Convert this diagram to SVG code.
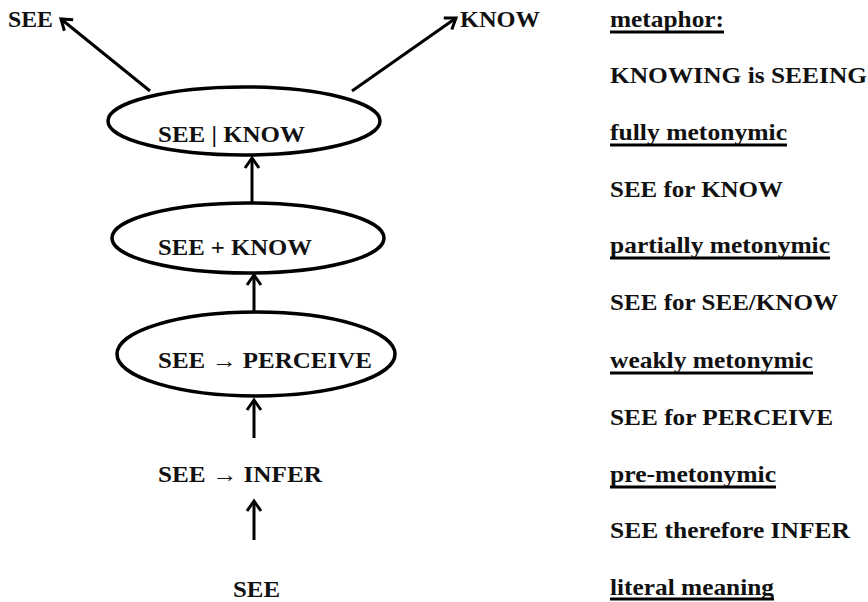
<svg xmlns="http://www.w3.org/2000/svg" width="868" height="602" viewBox="0 0 868 602">
<style>
  text { font-family: "Liberation Serif", "Times New Roman", serif; font-weight: bold; font-size: 23px; fill: #111; }
  .ell { fill: none; stroke: #000; stroke-width: 3.5; }
  .conn { stroke: #000; stroke-width: 3; fill: none; marker-end: url(#ah); }
  .ul { stroke: #000; stroke-width: 3; }
</style>
<defs>
  <marker id="ah" viewBox="-13 -9 16 18" refX="0" refY="0" markerWidth="16" markerHeight="18" markerUnits="userSpaceOnUse" orient="auto">
    <path d="M-10,-7 L0,0 L-10,7" fill="none" stroke="#000" stroke-width="3"/>
  </marker>
</defs>
<rect width="868" height="602" fill="#fff"/>

<g id="connectors">
  <line class="conn" x1="150" y1="91" x2="61" y2="19"/>
  <line class="conn" x1="352" y1="91" x2="456" y2="18"/>
  <line class="conn" x1="252" y1="203" x2="252" y2="158"/>
  <line class="conn" x1="254" y1="312" x2="254" y2="275"/>
  <line class="conn" x1="254" y1="438" x2="254" y2="400"/>
  <line class="conn" x1="254" y1="540" x2="254" y2="501"/>
</g>

<g id="top-see"><text x="8" y="27" textLength="45" lengthAdjust="spacingAndGlyphs">SEE</text></g>
<g id="top-know"><text x="460" y="27" textLength="80" lengthAdjust="spacingAndGlyphs">KNOW</text></g>

<g id="see-bar-know">
  <ellipse class="ell" cx="244" cy="121" rx="136" ry="34"/>
  <text x="158" y="142" textLength="147" lengthAdjust="spacingAndGlyphs">SEE | KNOW</text>
</g>
<g id="see-plus-know">
  <ellipse class="ell" cx="248" cy="238" rx="136" ry="35"/>
  <text x="158" y="255" textLength="154" lengthAdjust="spacingAndGlyphs">SEE + KNOW</text>
</g>
<g id="see-perceive">
  <ellipse class="ell" cx="256" cy="354" rx="139" ry="42"/>
  <text x="158" y="368" textLength="214" lengthAdjust="spacingAndGlyphs">SEE → PERCEIVE</text>
</g>
<g id="see-infer">
  <text x="158" y="482" textLength="164" lengthAdjust="spacingAndGlyphs">SEE → INFER</text>
</g>
<g id="see-bottom">
  <text x="233" y="597" textLength="47" lengthAdjust="spacingAndGlyphs">SEE</text>
</g>

<g id="legend">
  <text x="610" y="27" textLength="114" lengthAdjust="spacingAndGlyphs">metaphor:</text>
  <line class="ul" x1="610" y1="32" x2="724" y2="32"/>
  <text x="610" y="83" textLength="257" lengthAdjust="spacingAndGlyphs">KNOWING is SEEING</text>
  <text x="610" y="140" textLength="177" lengthAdjust="spacingAndGlyphs">fully metonymic</text>
  <line class="ul" x1="610" y1="145" x2="787" y2="145"/>
  <text x="610" y="197" textLength="173" lengthAdjust="spacingAndGlyphs">SEE for KNOW</text>
  <text x="610" y="253" textLength="220" lengthAdjust="spacingAndGlyphs">partially metonymic</text>
  <line class="ul" x1="610" y1="258" x2="830" y2="258"/>
  <text x="610" y="310" textLength="228" lengthAdjust="spacingAndGlyphs">SEE for SEE/KNOW</text>
  <text x="610" y="368" textLength="203" lengthAdjust="spacingAndGlyphs">weakly metonymic</text>
  <line class="ul" x1="610" y1="373" x2="813" y2="373"/>
  <text x="610" y="425" textLength="223" lengthAdjust="spacingAndGlyphs">SEE for PERCEIVE</text>
  <text x="610" y="482" textLength="166" lengthAdjust="spacingAndGlyphs">pre-metonymic</text>
  <line class="ul" x1="610" y1="487" x2="776" y2="487"/>
  <text x="610" y="538" textLength="240" lengthAdjust="spacingAndGlyphs">SEE therefore INFER</text>
  <text x="610" y="595" textLength="164" lengthAdjust="spacingAndGlyphs">literal meaning</text>
  <line class="ul" x1="610" y1="599" x2="774" y2="599"/>
</g>
</svg>
